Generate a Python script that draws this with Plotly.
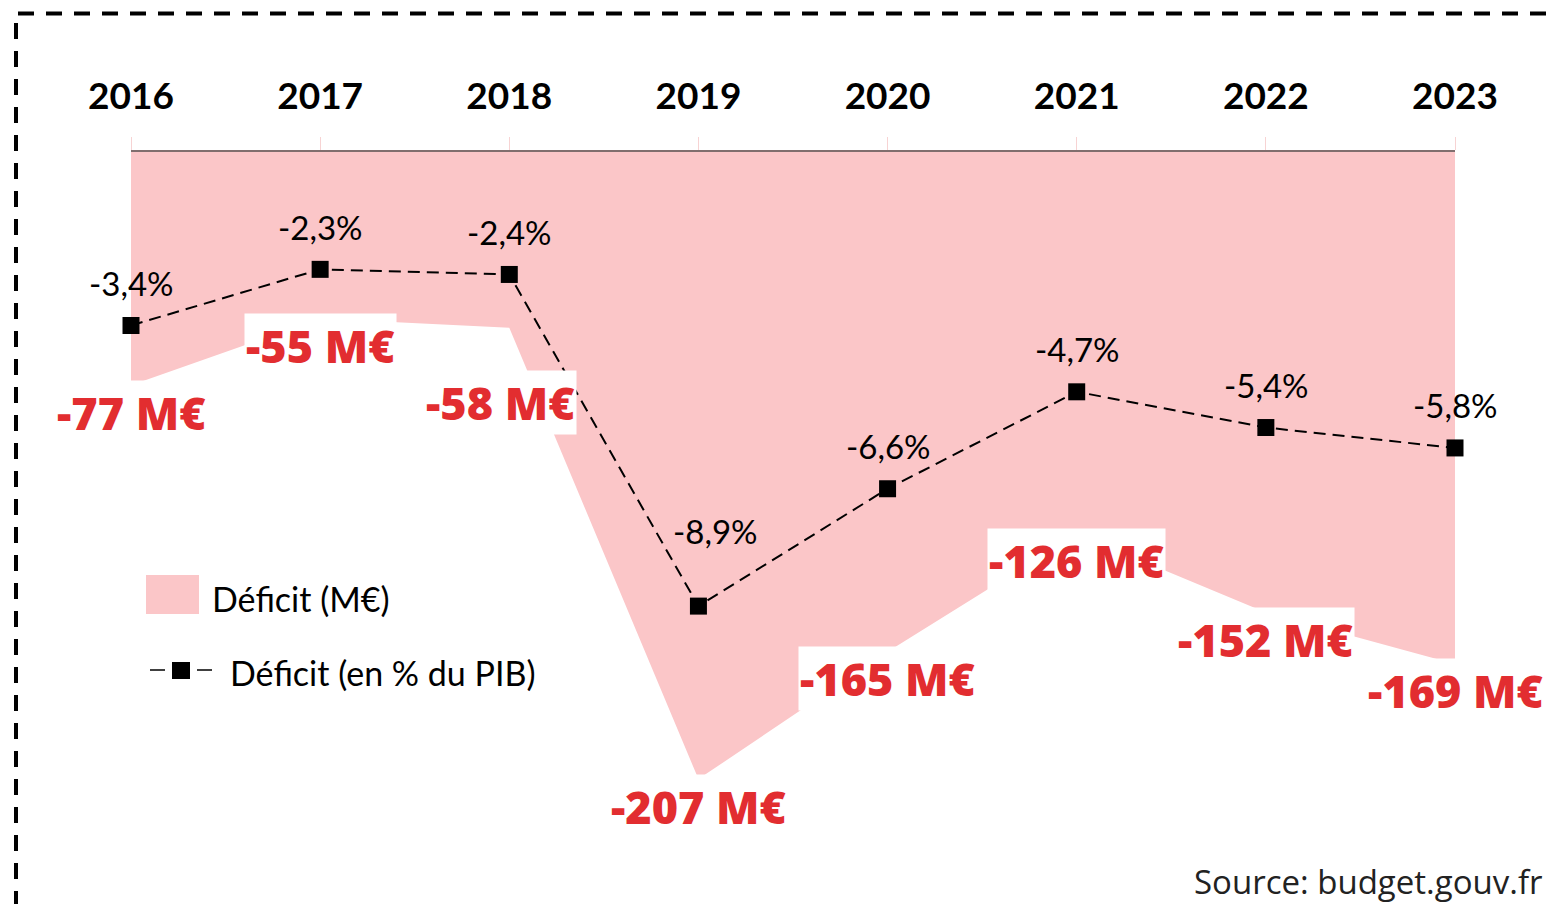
import plotly.graph_objects as go

# data
years = [2016, 2017, 2018, 2019, 2020, 2021, 2022, 2023]
deficit_me = [-77, -55, -58, -207, -165, -126, -152, -169]
deficit_pct = [-3.4, -2.3, -2.4, -8.9, -6.6, -4.7, -5.4, -5.8]

PINK = "#FBC6C8"
RED = "#E22D30"

# plot area in reference pixels: x 131..1455, y 152..850
L, R, T, B = 131, 1455, 152, 850
W, H = 1554, 904
OFF = 8  # page body margin


def px(x):
    return (x - L) / (R - L)


def py(y):
    return (B - y) / (B - T)


fig = go.Figure()

fig.add_trace(go.Scatter(x=years, y=deficit_me, mode="lines", fill="tozeroy",
                         fillcolor=PINK, line=dict(width=0, color=PINK),
                         name="Déficit (M€)", showlegend=False, hoverinfo="skip"))

fig.add_trace(go.Scatter(x=years, y=deficit_pct, yaxis="y2", mode="lines+markers",
                         line=dict(color="black", width=2, dash="12px,7px"),
                         marker=dict(symbol="square", size=17, color="black"),
                         cliponaxis=False,
                         name="Déficit (en % du PIB)", showlegend=False, hoverinfo="skip"))

annotations = []

# labels in M€ under the area, with a few nudges
me_shift = {2018: (-9, -75)}
for yr, v in zip(years, deficit_me):
    dx, dy = me_shift.get(yr, (0, -27))
    annotations.append(dict(x=yr, y=v, xref="x", yref="y", text=f"{v} M€",
                            showarrow=False, xshift=dx, yshift=dy,
                            bgcolor="white", borderpad=1,
                            font=dict(family="Open Sans", size=45, color=RED, weight=800)))

# labels in % above the markers
pct_shift = {2019: (17, 75)}
for yr, v in zip(years, deficit_pct):
    dx, dy = pct_shift.get(yr, (0, 42.5))
    annotations.append(dict(x=yr, y=v, xref="x", yref="y2",
                            text=f"{v:.1f}%".replace(".", ","),
                            showarrow=False, xshift=dx, yshift=dy,
                            font=dict(family="Lato", size=33, color="black")))

# legend, drawn by hand
annotations.append(dict(x=px(210), y=py(598), xref="paper", yref="paper", text="Déficit (M€)",
                        showarrow=False, xanchor="left", yanchor="middle",
                        font=dict(family="Lato", size=34, color="black")))
annotations.append(dict(x=px(228), y=py(672), xref="paper", yref="paper",
                        text="Déficit (en % du PIB)",
                        showarrow=False, xanchor="left", yanchor="middle",
                        font=dict(family="Lato", size=34, color="black")))

annotations.append(dict(x=px(1545), y=py(881), xref="paper", yref="paper",
                        text="Source: budget.gouv.fr", showarrow=False,
                        xanchor="right", yanchor="middle",
                        font=dict(family="Open Sans", size=33, color="#222222")))

shapes = [
    dict(type="rect", xref="paper", yref="paper", x0=px(146), x1=px(199), y0=py(614), y1=py(575),
         fillcolor=PINK, line=dict(width=0)),
    dict(type="line", xref="paper", yref="paper", x0=px(150), x1=px(165), y0=py(670), y1=py(670),
         line=dict(color="black", width=1.5)),
    dict(type="line", xref="paper", yref="paper", x0=px(197), x1=px(212), y0=py(670), y1=py(670),
         line=dict(color="black", width=1.5)),
    dict(type="rect", xref="paper", yref="paper", x0=px(172), x1=px(190), y0=py(679), y1=py(662),
         fillcolor="black", line=dict(width=0)),
    # dashed frame
    dict(type="line", xref="paper", yref="paper", x0=px(18), x1=px(1554), y0=py(13.5), y1=py(13.5),
         line=dict(color="black", width=4, dash="16px,12px")),
    dict(type="line", xref="paper", yref="paper", x0=px(16), x1=px(16), y0=py(23), y1=py(904),
         line=dict(color="black", width=4, dash="16px,12px")),
]

fig.update_layout(
    width=W - OFF, height=H - OFF,
    margin=dict(l=L - OFF, r=W - R, t=T - OFF, b=H - B),
    paper_bgcolor="white", plot_bgcolor="white",
    showlegend=False, hovermode=False,
    annotations=annotations, shapes=shapes,
    xaxis=dict(range=[2016, 2023], side="top", tickvals=years, ticktext=[str(y) for y in years],
               showgrid=False, zeroline=False, showline=True, linecolor="#806e6e", linewidth=2,
               ticks="outside", ticklen=13, tickcolor="#f7d3d3", tickwidth=1,
               ticklabelstandoff=13,
               tickfont=dict(family="Lato", size=37, color="black", weight="bold")),
    yaxis=dict(range=[-230.4, 0], visible=False, showgrid=False, zeroline=False),
    yaxis2=dict(range=[-13.68, 0], overlaying="y", side="right", visible=False,
                showgrid=False, zeroline=False),
)

fig.write_html("out.html")
